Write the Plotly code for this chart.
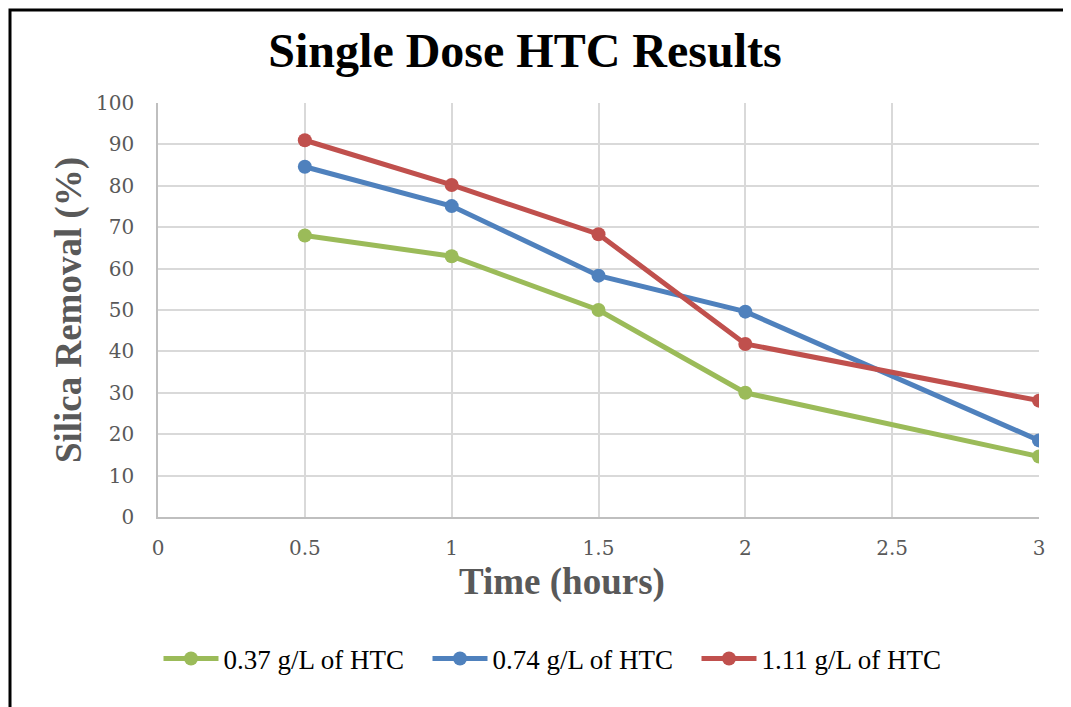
import plotly.graph_objects as go

time_hours = [0.5, 1, 1.5, 2, 3]
series_names = ["0.37 g/L of HTC", "0.74 g/L of HTC", "1.11 g/L of HTC"]
green_vals = [68, 63, 50, 30, 14.6]
blue_vals = [84.6, 75.1, 58.3, 49.6, 18.5]
red_vals = [91, 80.2, 68.3, 41.8, 28.1]
colors = ["#9BBB59", "#4F81BD", "#C0504D"]

fig = go.Figure()
for name, vals, c in zip(series_names, [green_vals, blue_vals, red_vals], colors):
    fig.add_trace(go.Scatter(
        x=time_hours, y=vals, name=name, mode="lines+markers",
        line=dict(color=c, width=5), marker=dict(color=c, size=14),
    ))

OFF = 8  # page body margin
W, H = 1071 - OFF, 707 - OFF
L, R, T, B = 150, 32, 95, 190
pw, ph = W - L - R, H - T - B

def px(xp):
    return (xp - OFF - L) / pw

def py(yp):
    return (H - B - (yp - OFF)) / ph

fig.update_layout(
    width=W, height=H,
    margin=dict(l=L, r=R, t=T, b=B),
    paper_bgcolor="white", plot_bgcolor="white",
    title=dict(text="<b>Single Dose HTC Results</b>", x=(525 - OFF) / W, xanchor="center",
               y=1 - (50 - OFF) / H, yanchor="middle",
               font=dict(family="Liberation Serif", size=48, color="black")),
    xaxis=dict(range=[0, 3], dtick=0.5, showgrid=True, gridcolor="#D9D9D9", gridwidth=1.5,
               showline=True, linecolor="#BFBFBF", linewidth=1.5, zeroline=False,
               ticks="", ticklabelstandoff=12,
               tickfont=dict(family="DejaVu Serif", size=20, color="#595959"),
               tickformat="~g"),
    yaxis=dict(range=[0, 100], dtick=10, showgrid=True, gridcolor="#D9D9D9", gridwidth=1.5,
               showline=True, linecolor="#BFBFBF", linewidth=1.5, zeroline=False,
               ticks="", ticklabelstandoff=18,
               tickfont=dict(family="DejaVu Serif", size=20, color="#595959"),
               title=dict(text="<b>Silica Removal (%)</b>", standoff=3,
                          font=dict(family="Liberation Serif", size=37, color="#595959"))),
    legend=dict(orientation="h", x=px(562), xanchor="center", y=py(659), yanchor="middle",
                font=dict(family="Liberation Serif", size=27, color="black"),
                itemwidth=55, entrywidth=199, entrywidthmode="pixels", tracegroupgap=0),
    showlegend=True,
)

fig.add_annotation(text="<b>Time (hours)</b>", xref="paper", yref="paper",
                   x=px(562), y=py(582), xanchor="center", yanchor="middle", showarrow=False,
                   font=dict(family="Liberation Serif", size=37, color="#595959"))

fig.add_shape(type="rect", xref="paper", yref="paper",
              x0=px(10), x1=px(1090), y0=py(10), y1=py(730),
              line=dict(color="black", width=3), fillcolor="rgba(0,0,0,0)", layer="above")

fig.write_html("out.html")
